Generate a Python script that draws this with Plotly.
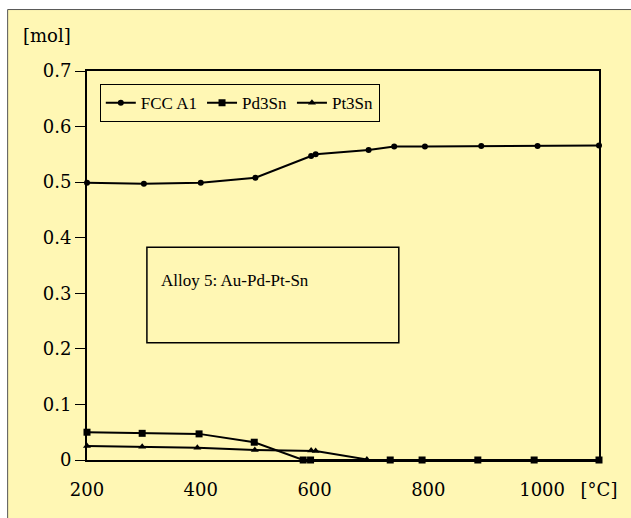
import plotly.graph_objects as go

# Data
fcc_t = [200, 300, 400, 496, 594, 602, 695, 740, 794, 893, 992, 1100]
fcc_mol = [0.499, 0.497, 0.499, 0.508, 0.547, 0.550, 0.558, 0.564, 0.564, 0.565, 0.565, 0.566]

pd_t = [200, 297, 397, 494, 580, 593, 733, 789, 887, 986, 1100]
pd_mol = [0.050, 0.048, 0.047, 0.032, 0.0, 0.0, 0.0, 0.0, 0.0, 0.0, 0.0]

pt_t = [200, 297, 394, 495, 594, 602, 692]
pt_mol = [0.025, 0.024, 0.022, 0.018, 0.017, 0.016, 0.001]

x_tickvals = [200, 400, 600, 800, 1000, 1100]
x_ticktext = ["200", "400", "600", "800", "1000", "[°C]"]
y_tickvals = [0, 0.1, 0.2, 0.3, 0.4, 0.5, 0.6, 0.7]
y_ticktext = ["0", "0.1", "0.2", "0.3", "0.4", "0.5", "0.6", "0.7"]

YELLOW = "#FFF7B4"
SERIF = "DejaVu Serif"
SERIF2 = "Liberation Serif"

fig = go.Figure()
fig.add_trace(go.Scatter(x=fcc_t, y=fcc_mol, name="FCC A1", mode="lines+markers",
                         line=dict(color="black", width=2),
                         marker=dict(symbol="circle", size=6, color="black"),
                         cliponaxis=False))
fig.add_trace(go.Scatter(x=pd_t, y=pd_mol, name="Pd3Sn", mode="lines+markers",
                         line=dict(color="black", width=2),
                         marker=dict(symbol="square", size=7, color="black"),
                         cliponaxis=False))
fig.add_trace(go.Scatter(x=pt_t, y=pt_mol, name="Pt3Sn", mode="lines+markers",
                         line=dict(color="black", width=2),
                         marker=dict(symbol="triangle-up", size=7, color="black"),
                         cliponaxis=False))

fig.update_layout(
    width=631, height=518,
    margin=dict(l=87, r=32, t=71, b=58),
    paper_bgcolor="white",
    plot_bgcolor=YELLOW,
    showlegend=True,
    legend=dict(orientation="h", x=0.025, y=0.966, xanchor="left", yanchor="top",
                bgcolor=YELLOW, bordercolor="black", borderwidth=1,
                font=dict(family=SERIF2, size=17, color="black")),
    xaxis=dict(range=[200, 1100], tickvals=x_tickvals, ticktext=x_ticktext,
               showgrid=False, zeroline=False, showline=True, mirror=True,
               linecolor="black", linewidth=2, ticks="", ticklabelstandoff=12,
               tickfont=dict(family=SERIF, size=18, color="black")),
    yaxis=dict(range=[0, 0.7], tickvals=y_tickvals, ticktext=y_ticktext,
               showgrid=False, zeroline=False, showline=True, mirror=True,
               linecolor="black", linewidth=2, ticks="outside", ticklen=10,
               tickwidth=1, tickcolor="black",
               tickfont=dict(family=SERIF, size=18, color="black")),
    shapes=[
        dict(type="rect", xref="paper", yref="paper", x0=-0.155, x1=1.2, y0=-0.3, y1=1.158,
             fillcolor=YELLOW, line=dict(color="#555555", width=1), layer="below"),
        dict(type="rect", xref="paper", yref="paper", x0=0.117, x1=0.609, y0=0.3015, y1=0.5468,
             fillcolor="rgba(0,0,0,0)", line=dict(color="black", width=1.5)),
    ],
    annotations=[
        dict(text="[mol]", xref="paper", yref="paper", x=-0.128, y=1.0925,
             xanchor="left", yanchor="middle", showarrow=False,
             font=dict(family=SERIF, size=18, color="black")),
        dict(text="Alloy 5: Au-Pd-Pt-Sn", xref="paper", yref="paper", x=0.141, y=0.4627,
             xanchor="left", yanchor="middle", showarrow=False,
             font=dict(family=SERIF2, size=17, color="black")),
    ],
)

fig.write_html("out.html")
